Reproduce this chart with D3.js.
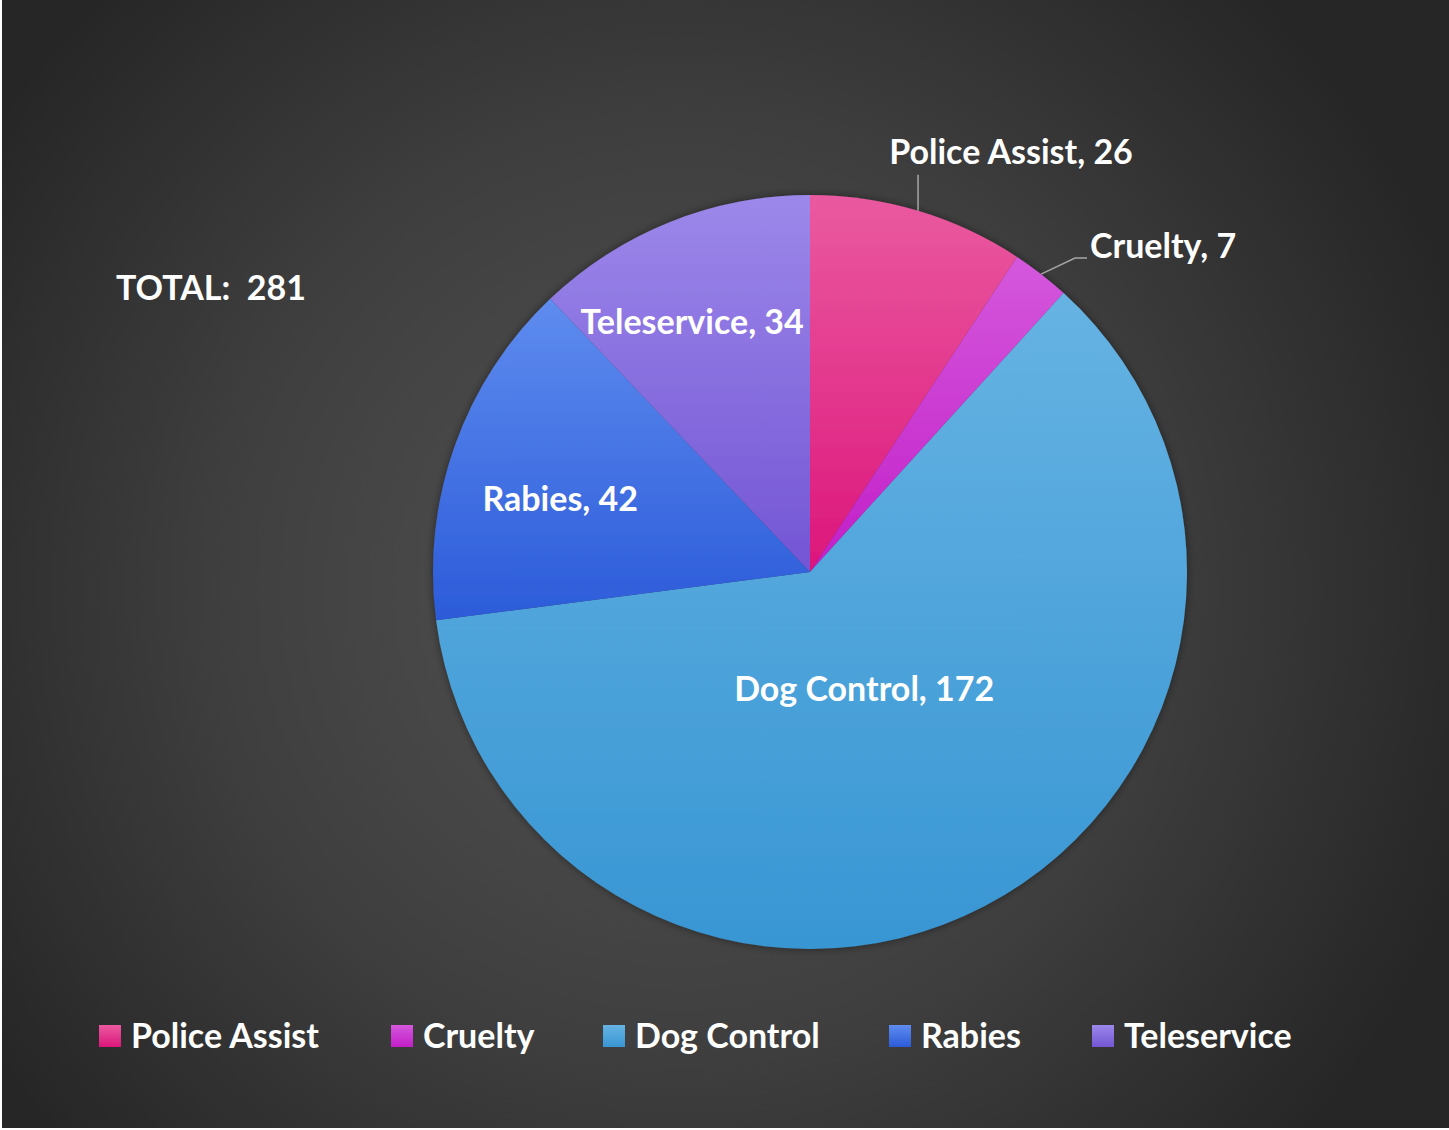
<!DOCTYPE html>
<html>
<head>
<meta charset="utf-8">
<script src="https://cdn.jsdelivr.net/npm/d3@7"></script>
<style>
  html, body { margin: 0; padding: 0; background: #ffffff; }
  svg { display: block; }
  text { font-family: Lato, "Open Sans", sans-serif; font-weight: 700; fill: #ffffff; }
</style>
</head>
<body>
<div id="chart"></div>
<script>
// chart data
var categories = ["Police Assist", "Cruelty", "Dog Control", "Rabies", "Teleservice"];
var counts = [26, 7, 172, 42, 34];
var totalLabel = "TOTAL:  281";

// colours (top, bottom of each slice gradient)
var topColors = ["#ea5aa0", "#d458dc", "#66b3e3", "#5e8cef", "#9c88ea"];
var bottomColors = ["#dc167b", "#c21ec8", "#3896d3", "#2c5bd9", "#7355d4"];

var width = 1449, height = 1130;
var cx = 810, cy = 572, radius = 377;

var svg = d3.select("#chart")
  .append("svg")
  .attr("width", width)
  .attr("height", height);

var defs = svg.append("defs");

// background glow
var bg = defs.append("radialGradient")
  .attr("id", "bg")
  .attr("gradientUnits", "userSpaceOnUse")
  .attr("cx", 680).attr("cy", 590).attr("r", 830);
bg.append("stop").attr("offset", "0%").attr("stop-color", "#535353");
bg.append("stop").attr("offset", "55%").attr("stop-color", "#3f3f3f");
bg.append("stop").attr("offset", "100%").attr("stop-color", "#262626");

var shadow = defs.append("filter")
  .attr("id", "shadow")
  .attr("x", "-10%").attr("y", "-10%").attr("width", "120%").attr("height", "120%");
shadow.append("feDropShadow")
  .attr("dx", 0).attr("dy", 0).attr("stdDeviation", 4)
  .attr("flood-color", "#000").attr("flood-opacity", 0.45);

categories.forEach(function(c, i){
  var g = defs.append("linearGradient")
    .attr("id", "grad" + i)
    .attr("x1", 0).attr("y1", 0).attr("x2", 0).attr("y2", 1);
  g.append("stop").attr("offset", "0%").attr("stop-color", topColors[i]);
  g.append("stop").attr("offset", "100%").attr("stop-color", bottomColors[i]);
});

svg.append("rect")
  .attr("x", 2).attr("y", 0)
  .attr("width", width - 2).attr("height", height - 2)
  .attr("fill", "url(#bg)");

var data = categories.map(function(c, i){ return {name: c, value: counts[i], index: i}; });

var pie = d3.pie()
  .sort(null)
  .value(function(d){ return d.value; });

var arcs = pie(data);

var arc = d3.arc()
  .innerRadius(0)
  .outerRadius(radius);

var g = svg.append("g")
  .attr("transform", "translate(" + cx + "," + cy + ")");

g.append("g")
  .attr("filter", "url(#shadow)")
  .selectAll("path")
  .data(arcs)
  .enter().append("path")
  .attr("d", arc)
  .attr("fill", function(d){ return "url(#grad" + d.index + ")"; });

// label placement: inside slices at a fraction of the radius (with a small
// angle shift, like Excel's best fit), small slices get leader lines
var labelRadius = [1, 1, 0.342, 0.69, 0.732];
var labelShift = [0, 0, 2.7, -3.3, -3.5]; // degrees
var outside = [true, true, false, false, false];

function polar(angle, r){
  return [r * Math.sin(angle), -r * Math.cos(angle)];
}

var fontSize = 34;

arcs.forEach(function(d, i){
  var mid = (d.startAngle + d.endAngle) / 2;
  var txt = d.data.name + ", " + d.data.value;
  if (!outside[i]) {
    var p = polar(mid + labelShift[i] * Math.PI / 180, radius * labelRadius[i]);
    g.append("text")
      .attr("x", p[0]).attr("y", p[1])
      .attr("dy", "0.35em")
      .attr("text-anchor", "middle")
      .style("font-size", fontSize + "px")
      .text(txt);
    return;
  }
  var p0 = polar(mid, radius);
  var pts, tx, ty, anchor;
  if (i == 0) {
    // straight up
    pts = [p0, [p0[0], p0[1] - 36]];
    tx = p0[0] + 93; ty = p0[1] - 59; anchor = "middle";
  } else {
    var p1 = [p0[0] + 34, p0[1] - 16];
    pts = [p0, p1, [p1[0] + 12, p1[1]]];
    tx = p1[0] + 15; ty = p1[1] - 12; anchor = "start";
  }
  g.append("path")
    .attr("d", d3.line()(pts))
    .attr("fill", "none")
    .attr("stroke", "#a6a6a6")
    .attr("stroke-width", 1.5);
  g.append("text")
    .attr("x", tx).attr("y", ty)
    .attr("dy", "0.35em")
    .attr("text-anchor", anchor)
    .style("font-size", fontSize + "px")
    .text(txt);
});

// total
svg.append("text")
  .attr("x", 116).attr("y", 288)
  .attr("dy", "0.35em")
  .style("font-size", fontSize + "px")
  .style("white-space", "pre")
  .attr("xml:space", "preserve")
  .text(totalLabel);

// legend
var legendX = [99, 391, 603, 889, 1092];
var legend = svg.append("g").attr("class", "legend");
var items = legend.selectAll("g")
  .data(data)
  .enter().append("g")
  .attr("transform", function(d, i){ return "translate(" + legendX[i] + ",1036)"; });

items.append("rect")
  .attr("x", 0).attr("y", -11)
  .attr("width", 22).attr("height", 22)
  .attr("fill", function(d){ return "url(#grad" + d.index + ")"; });

items.append("text")
  .attr("x", 32).attr("y", 0)
  .attr("dy", "0.35em")
  .style("font-size", fontSize + "px")
  .text(function(d){ return d.name; });
</script>
</body>
</html>
